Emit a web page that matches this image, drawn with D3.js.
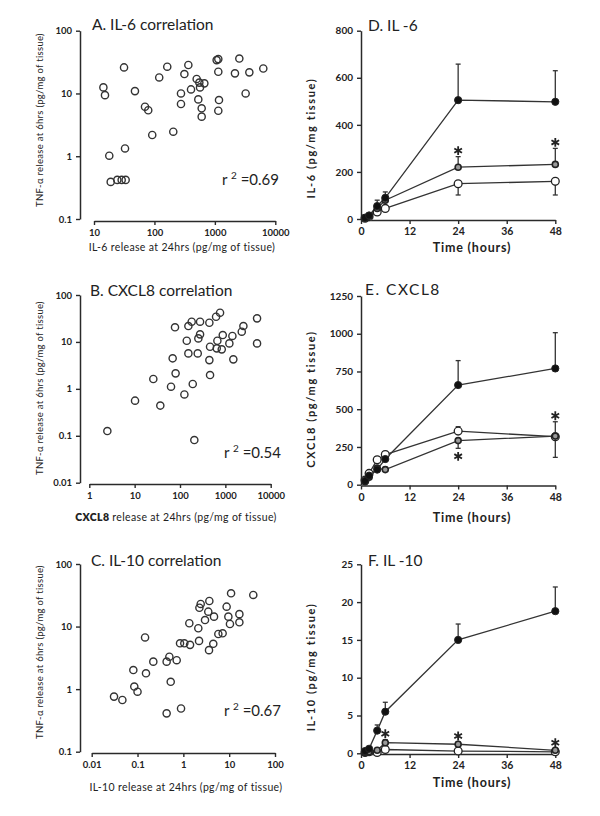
<!DOCTYPE html>
<html><head><meta charset="utf-8">
<script src="https://cdn.jsdelivr.net/npm/d3@7"></script>
<style>
body{margin:0;background:#fff}
text{font-family:Lato,"Open Sans",sans-serif;fill:#222}
</style>
</head><body>
<script>
// ---------- DATA ----------
// Scatter A: IL-6 release at 24 hrs vs TNF-α release at 6 hrs
const aX = [14.3,15.2,31.4,47.6,69.8,79,92,120,163,205,275,275,313,364,403,500,532,553,568,605,605,670,1070,1140,1140,1170,1140,2150,2540,3230,3720,6330,17.9,18.9,24.3,28.7,33.4,32.6];
const aY = [12.5,9.4,26,10.9,6.15,5.4,2.18,18,26.7,2.46,10,6.8,20.4,28.4,11.6,17,8.05,14.9,12.5,5.8,4.27,14.5,34,35.3,22.2,7.85,5.3,20.9,36,10,21.7,25,1.02,0.39,0.42,0.42,0.42,1.33];
// Scatter B: CXCL8
const bX = [2.5,10.2,25.8,36.8,63.4,68.9,77.6,80,125,207,5000,5000,2500,2300,1500,1430,1226,833,877,667,646,764,624,444,460,444,460,277,277,254,181,153,141,153,246,191];
const bY = [0.126,0.56,1.62,0.44,1.11,4.47,20.5,2.14,0.76,0.081,31.8,9.3,21.8,16.5,4.25,13.4,9.3,6.95,14,10.6,7.3,42,34.4,25.6,7.9,4.1,1.97,27,14.5,11.9,27,21.8,10.6,5.7,5.7,1.27];
// Scatter C: IL-10
const cX = [0.0307,0.0467,0.081,0.085,0.1,0.146,0.153,0.221,0.432,0.432,0.495,0.53,0.716,0.846,0.89,1.05,1.35,1.4,2.12,2.2,2.24,2.39,2.97,3.5,3.69,3.63,4.67,4.5,5.8,7.2,8.8,9.6,10.4,11,16.7,16.7,33.6];
const cY = [0.76,0.67,2.02,1.1,0.91,6.7,1.79,2.75,2.75,0.41,3.3,1.31,2.9,5.4,0.49,5.4,11.3,5.1,9.4,5.9,20,23,12.7,17.3,25.6,4.2,14.4,5.3,7.6,7.8,20.8,14.4,11,34,15.8,11.7,32];
const r2 = ["0.69","0.54","0.67"];

// Time courses
const hours = [1,2,4,6,24,48];
const dFilled = [5,15,55,90,505,498],  dFilledErr = [5,8,25,25,153,132];
const dGray   = [5,12,45,80,220,232],  dGrayErr   = [3,5,10,20,45,68];
const dOpen   = [3,10,30,45,150,160],  dOpenErr   = [-2,-4,-10,-10,-48,-58];
const dStars  = [0,0,0,0,1,1];
const eFilled = [25,60,100,170,660,770], eFilledErr = [10,15,20,40,162,237];
const eOpen   = [30,75,165,200,355,318], eOpenErr   = [8,15,20,20,29,-137];
const eGray   = [20,50,110,100,292,322], eGrayErr   = [5,10,15,15,-51,95];
const eStars  = [0,0,0,0,-1,1];
const fFilled = [0.3,0.6,3.0,5.5,15,18.8], fFilledErr = [0.2,0.3,0.75,1.25,2.1,3.2];
const fGray   = [0.1,0.2,0.4,1.4,1.2,0.4], fGrayErr   = [0.1,0.1,0.2,0.4,0.3,0.2];
const fOpen   = [0.1,0.2,0.1,0.5,0.3,0.2], fOpenErr   = [-0.1,-0.1,-0.1,-0.2,-0.2,-0.35];
const fStars  = [0,0,0,1,1,1];

// ---------- DRAWING ----------
const svg = d3.select("body").append("svg").attr("width",600).attr("height",816);
const fmt = v => String(v);
const INK = "#2a2a2a";

function styleAxis(g, fs){
  g.select(".domain").attr("stroke",INK).attr("stroke-width",1.5);
  g.selectAll(".tick line").attr("stroke",INK).attr("stroke-width",1.4);
  g.selectAll(".tick text").attr("font-size",fs).attr("font-weight",700).attr("fill","#333")
    .attr("font-family","Lato, sans-serif");
}

function scatter(c){
  const x = d3.scaleLog().domain(c.xDom).range(c.xr);
  const y = d3.scaleLog().domain(c.yDom).range(c.yr);
  const gx = svg.append("g").attr("transform",`translate(0,${c.xAxisY})`)
    .call(d3.axisBottom(x).tickValues(c.xTicks).tickFormat(fmt).tickSize(4).tickSizeOuter(0).tickPadding(4));
  styleAxis(gx, 9.5);
  const gy = svg.append("g").attr("transform",`translate(${c.yAxisX},0)`)
    .call(d3.axisLeft(y).tickValues(c.yTicks).tickFormat(fmt).tickSize(4).tickSizeOuter(0).tickPadding(4));
  styleAxis(gy, 9.5);
  svg.append("g").selectAll("circle").data(d3.zip(c.xs,c.ys)).join("circle")
    .attr("cx",d=>x(d[0])).attr("cy",d=>y(d[1])).attr("r",3.6)
    .attr("fill","none").attr("stroke","#333").attr("stroke-width",1.4);
  svg.append("text").attr("x",c.tx).attr("y",c.ty).attr("font-size",15.5).text(c.title);
  const rt = svg.append("text").attr("x",c.rx).attr("y",c.ry).attr("font-size",15);
  rt.append("tspan").text("r ");
  rt.append("tspan").attr("dy",-6).attr("font-size",10).text("2");
  rt.append("tspan").attr("dy",6).text(" =" + c.r2);
  const xl = svg.append("text").attr("x",c.xlx).attr("y",c.xly).attr("text-anchor","middle")
    .attr("font-size",10.5).attr("letter-spacing",0.35).attr("fill","#333");
  if (c.boldPart){ xl.append("tspan").attr("font-weight",800).text(c.boldPart); }
  xl.append("tspan").text(c.xLabel);
  svg.append("text").attr("transform",`translate(${c.ylx},${c.yly}) rotate(-90)`)
    .attr("text-anchor","middle").attr("font-size",9.5).attr("letter-spacing",0.3).attr("fill","#333").text(c.yLabel);
}

const yLab = "TNF-α release at 6hrs (pg/mg of tissue)";
scatter({xs:aX, ys:aY, xDom:[10,10000], xr:[94,275.3], yDom:[0.1,100], yr:[219,30.7],
  xAxisY:221, yAxisX:80, xTicks:[10,100,1000,10000], yTicks:[0.1,1,10,100],
  title:"A. IL-6 correlation", tx:92, ty:30, r2:r2[0], rx:222, ry:185,
  xLabel:"IL-6 release at 24hrs (pg/mg of tissue)", xlx:182, xly:251, yLabel:yLab, ylx:43, yly:120});
scatter({xs:bX, ys:bY, xDom:[1,10000], xr:[89.3,270.7], yDom:[0.01,100], yr:[482.7,295],
  xAxisY:484, yAxisX:80, xTicks:[1,10,100,1000,10000], yTicks:[0.01,0.1,1,10,100],
  title:"B. CXCL8 correlation", tx:90, ty:296, r2:r2[1], rx:224, ry:458,
  boldPart:"CXCL8", xLabel:" release at 24hrs (pg/mg of tissue)", xlx:176, xly:521, yLabel:yLab, ylx:43, yly:388});
scatter({xs:cX, ys:cY, xDom:[0.01,100], xr:[91.7,275], yDom:[0.1,100], yr:[751.7,564],
  xAxisY:753, yAxisX:80, xTicks:[0.01,0.1,1,10,100], yTicks:[0.1,1,10,100],
  title:"C. IL-10 correlation", tx:91, ty:566, r2:r2[2], rx:224, ry:716,
  xLabel:"IL-10 release at 24hrs (pg/mg of tissue)", xlx:186, xly:791, yLabel:yLab, ylx:43, yly:652});

const starPath = d3.symbol().type(d3.symbolAsterisk).size(55)();

function timecourse(c){
  const x = d3.scaleLinear().domain([0,48]).range([361,555.3]);
  const y = d3.scaleLinear().domain([0,c.yMax]).range(c.yr);
  const gx = svg.append("g").attr("transform",`translate(0,${c.xAxisY})`)
    .call(d3.axisBottom(x).tickValues([0,12,24,36,48]).tickSize(4).tickSizeOuter(0).tickPadding(4));
  styleAxis(gx, 10.5);
  const gy = svg.append("g").attr("transform",`translate(361,0)`)
    .call(d3.axisLeft(y).tickValues(c.yTicks).tickFormat(d3.format("d")).tickSize(4).tickSizeOuter(0).tickPadding(4));
  styleAxis(gy, 10);
  const line = d3.line().x(d=>x(d[0])).y(d=>y(d[1]));
  c.series.forEach(s=>{
    svg.append("path").datum(d3.zip(hours,s.v)).attr("d",line)
      .attr("fill","none").attr("stroke","#333").attr("stroke-width",1.3);
  });
  c.series.forEach(s=>{
    const g = svg.append("g");
    d3.zip(hours,s.v,s.e).forEach(([h,v,e])=>{
      const y0 = y(v), y1 = y(v+e);
      g.append("line").attr("x1",x(h)).attr("x2",x(h)).attr("y1",y0).attr("y2",y1)
        .attr("stroke","#333").attr("stroke-width",1.3);
      g.append("line").attr("x1",x(h)-2.5).attr("x2",x(h)+2.5).attr("y1",y1).attr("y2",y1)
        .attr("stroke","#333").attr("stroke-width",1.3);
    });
  });
  c.series.forEach(s=>{
    svg.append("g").selectAll("circle").data(d3.zip(hours,s.v)).join("circle")
      .attr("cx",d=>x(d[0])).attr("cy",d=>y(d[1])).attr("r",s.r)
      .attr("fill",s.fill).attr("stroke","#222").attr("stroke-width",s.sw);
  });
  // significance asterisks on the grey series
  const gs = c.series[c.starSeries];
  d3.zip(hours,gs.v,gs.e,c.stars).forEach(([h,v,e,st])=>{
    if(!st) return;
    const yy = y(v+e) + (st>0 ? -6 : 8);
    svg.append("path").attr("d",starPath).attr("transform",`translate(${x(h)},${yy})`)
      .attr("fill","none").attr("stroke","#222").attr("stroke-width",1.8);
  });
  svg.append("text").attr("x",c.tx).attr("y",c.ty).attr("font-size",15.5).attr("letter-spacing",c.ls||0).text(c.title);
  svg.append("text").attr("x",472).attr("y",c.xly).attr("text-anchor","middle")
    .attr("font-size",12.5).attr("font-weight",700).attr("letter-spacing",0.8).attr("fill","#333").text("Time (hours)");
  svg.append("text").attr("transform",`translate(315,${c.yly}) rotate(-90)`)
    .attr("text-anchor","middle").attr("font-size",11).attr("font-weight",700).attr("letter-spacing",1.6).attr("fill","#333").text(c.yLabel);
}
const mk = (v,e,kind)=> kind==="filled" ? {v,e,r:3.6,fill:"#111",sw:1}
  : kind==="gray" ? {v,e,r:3,fill:"#9a9a9a",sw:1.6} : {v,e,r:3.9,fill:"#fff",sw:1.3};

timecourse({yMax:800, yr:[219,30.7], xAxisY:220, yTicks:[0,200,400,600,800],
  series:[mk(dOpen,dOpenErr,"open"), mk(dGray,dGrayErr,"gray"), mk(dFilled,dFilledErr,"filled")],
  starSeries:1, stars:dStars, title:"D. IL -6", tx:368, ty:31, xly:252, yLabel:"IL-6 (pg/mg tissue)", yly:138});
timecourse({yMax:1250, yr:[484.7,296], xAxisY:485.5, yTicks:[0,250,500,750,1000,1250],
  series:[mk(eOpen,eOpenErr,"open"), mk(eGray,eGrayErr,"gray"), mk(eFilled,eFilledErr,"filled")],
  starSeries:1, stars:eStars, title:"E. CXCL8", tx:365, ty:295, ls:1.5, xly:522, yLabel:"CXCL8 (pg/mg tissue)", yly:399});
timecourse({yMax:25, yr:[753.3,564.3], xAxisY:754, yTicks:[0,5,10,15,20,25],
  series:[mk(fOpen,fOpenErr,"open"), mk(fGray,fGrayErr,"gray"), mk(fFilled,fFilledErr,"filled")],
  starSeries:1, stars:fStars, title:"F. IL -10", tx:368, ty:566, xly:787, yLabel:"IL-10 (pg/mg tissue)", yly:667});
</script>
</body></html>
